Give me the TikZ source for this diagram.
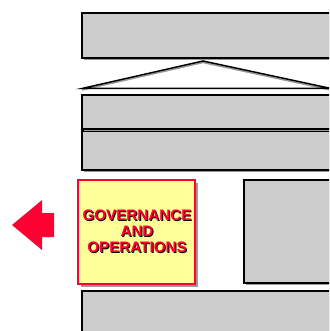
\documentclass[tikz,border=0pt]{standalone}
\usepackage{fontspec}
\setmainfont{Liberation Sans}
\usetikzlibrary{shadows}
\definecolor{boxgray}{HTML}{CCCCCC}
\definecolor{shadowgray}{HTML}{999999}
\definecolor{govyellow}{HTML}{FFFF99}
\definecolor{govred}{HTML}{FF0033}
\tikzset{
  graybox/.style={draw=black, fill=boxgray, line width=1.2pt, inner sep=0pt,
    drop shadow={shadow xshift=2pt, shadow yshift=-2pt, fill=shadowgray, opacity=1}},
  govbox/.style={draw=govred, fill=govyellow, line width=1.2pt, inner sep=0pt,
    drop shadow={shadow xshift=3pt, shadow yshift=-3pt, fill=shadowgray, opacity=1}},
  govtext/.style={font=\fontsize{15.2}{16.2}\selectfont\bfseries, align=center, inner sep=0pt},
}
\begin{document}
\begin{tikzpicture}[x=1pt,y=-1pt]
\useasboundingbox (0,0) rectangle (329,331);
\clip (0,0) rectangle (329,331);
% top box
\node[graybox, minimum width=251pt, minimum height=45pt] (top) at (207.5,35.5) {};
% roof
\coordinate (apex) at (203,61);
\coordinate (rl) at (82,88.5);
\coordinate (rr) at (331,88.5);
\draw[shadowgray, line width=1.5pt, line join=miter] ([yshift=-1.5pt]rl) -- ([yshift=-1.5pt]apex) -- ([yshift=-1.5pt]rr);
\draw[black, line width=1.5pt, line join=miter] (rl) -- (apex) -- (rr) -- cycle;
% box 3 and box 2
\node[graybox, minimum width=251pt, minimum height=39pt] (third) at (207.5,150.5) {};
\node[graybox, minimum width=251pt, minimum height=34pt] (second) at (207.5,112) {};
% right box
\node[graybox, minimum width=89pt, minimum height=103pt] (right) at (288.5,231.5) {};
% bottom box
\node[graybox, minimum width=251pt, minimum height=44pt] (bottom) at (207.5,313) {};
% governance box
\node[govbox, minimum width=117pt, minimum height=104pt] (gov) at (136.5,232) {};
\node[govtext, text=black] (govshadow) at (138,232) {GOVERNANCE\\AND\\OPERATIONS};
\node[govtext, text=govred] (govlabel) at (137,231) {GOVERNANCE\\AND\\OPERATIONS};
% arrow
\fill[govred] (12,225) -- (42,200) -- (42,213) -- (54,213) -- (54,237) -- (42,237) -- (42,250) -- cycle;
\end{tikzpicture}
\end{document}
